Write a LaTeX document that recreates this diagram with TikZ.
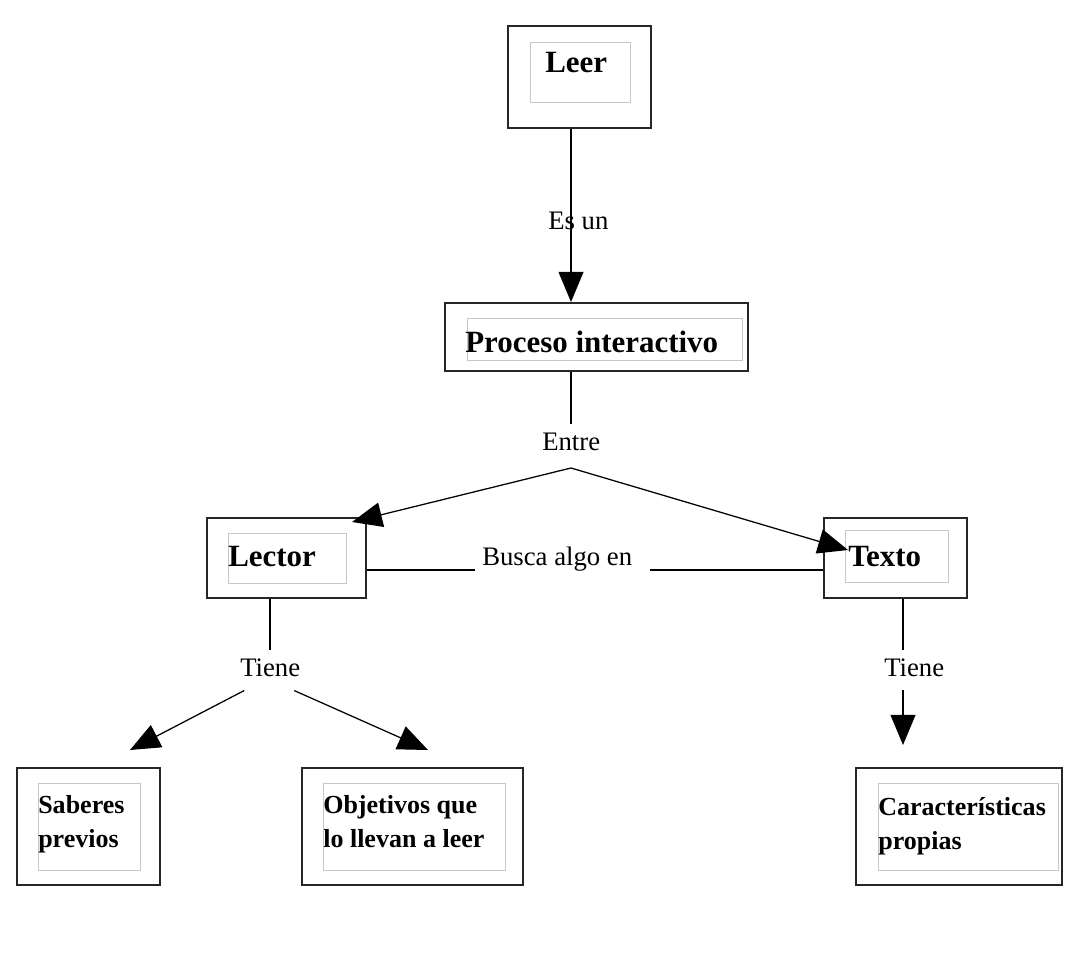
\documentclass[tikz,border=0pt]{standalone}
\usepackage{fontspec}
\setmainfont{Liberation Serif}
\usetikzlibrary{arrows.meta, positioning, calc}

\tikzset{
  outerbox/.style={draw=black!85, line width=1.4pt, inner sep=0pt},
  innerbox/.style={draw=black!22, line width=0.6pt, inner sep=0pt},
  bigtext/.style={font=\fontsize{22}{26}\selectfont\bfseries, inner sep=0pt, anchor=base west},
  smalltext/.style={font=\fontsize{18.5}{24}\selectfont\bfseries, inner sep=0pt, anchor=north west, align=left},
  linklabel/.style={font=\fontsize{19}{23}\selectfont, inner sep=0pt, anchor=base west},
  link/.style={line width=0.9pt},
  arr/.style={link, -{Triangle[length=0.75cm, width=0.62cm]}},
}

\begin{document}
\begin{tikzpicture}[x=0.025cm, y=-0.025cm]
  \useasboundingbox (0,0) rectangle (1068,959);

  % Leer
  \node[outerbox, minimum width=3.575cm, minimum height=2.55cm] (leer) at (579.5,77) {};
  \node[innerbox, minimum width=2.5cm, minimum height=1.5cm] (leer-in) at (580,72) {};
  \node[bigtext] (leer-t) at (545,73) {Leer};

  % Proceso interactivo
  \node[outerbox, minimum width=7.575cm, minimum height=1.7cm] (proceso) at (596.5,337) {};
  \node[innerbox, minimum width=6.875cm, minimum height=1.05cm] (proceso-in) at (604.5,339) {};
  \node[bigtext] (proceso-t) at (465,352) {Proceso interactivo};

  % Lector
  \node[outerbox, minimum width=3.975cm, minimum height=2cm] (lector) at (286.5,558) {};
  \node[innerbox, minimum width=2.95cm, minimum height=1.25cm] (lector-in) at (287,558) {};
  \node[bigtext] (lector-t) at (228,566) {Lector};

  % Texto
  \node[outerbox, minimum width=3.575cm, minimum height=2cm] (texto) at (895.5,558) {};
  \node[innerbox, minimum width=2.575cm, minimum height=1.3cm] (texto-in) at (896.5,556) {};
  \node[bigtext] (texto-t) at (848,566) {Texto};

  % Saberes previos
  \node[outerbox, minimum width=3.575cm, minimum height=2.925cm] (saberes) at (88.5,826.5) {};
  \node[innerbox, minimum width=2.55cm, minimum height=2.175cm] (saberes-in) at (89,826.5) {};
  \node[smalltext] (saberes-t) at (38,795) {Saberes\\previos};

  % Objetivos
  \node[outerbox, minimum width=5.525cm, minimum height=2.925cm] (objetivos) at (412.5,826.5) {};
  \node[innerbox, minimum width=4.55cm, minimum height=2.175cm] (objetivos-in) at (414,826.5) {};
  \node[smalltext] (objetivos-t) at (323,795) {Objetivos que\\lo llevan a leer};

  % Caracteristicas
  \node[outerbox, minimum width=5.15cm, minimum height=2.925cm] (caract) at (959,826.5) {};
  \node[innerbox, minimum width=4.5cm, minimum height=2.175cm] (caract-in) at (968,826.5) {};
  \node[smalltext] (caract-t) at (878,797) {Características\\propias};

  % Es un
  \coordinate (entre-j) at (571,468);
  \draw[arr] (leer.south -| entre-j) -- (proceso.north -| entre-j);
  \node[linklabel] (esun) at (548,230) {Es un};

  % Entre
  \node[linklabel] (entre) at (542,450) {Entre};
  \draw[link] (proceso.south -| entre-j) -- ([yshift=0.2cm]entre.north -| entre-j);
  \coordinate (lector-tip) at (352,522);
  \coordinate (texto-tip) at (848,550);
  \draw[arr] (entre-j) -- (lector-tip);
  \draw[arr] (entre-j) -- (texto-tip);

  % Busca algo en
  \node[linklabel] (busca) at (482,565) {Busca algo en};
  \coordinate (busca-l) at (475,570);
  \coordinate (busca-r) at (650,570);
  \draw[link] (lector.east |- busca-l) -- (busca-l);
  \draw[link] (busca-r) -- (texto.west |- busca-r);

  % Tiene (Lector)
  \node[linklabel] (tiene-l) at (240,676) {Tiene};
  \coordinate (lector-j) at (270,650);
  \draw[link] (lector.south -| lector-j) -- (lector-j);
  \coordinate (saberes-tip) at (130,750);
  \coordinate (objetivos-tip) at (428,750);
  \draw[arr] ([shift={(-0.65cm,-0.35cm)}]tiene-l.south) -- (saberes-tip);
  \draw[arr] ([shift={(0.6cm,-0.35cm)}]tiene-l.south) -- (objetivos-tip);

  % Tiene (Texto)
  \node[linklabel] (tiene-t) at (884,676) {Tiene};
  \coordinate (texto-j) at (903,650);
  \coordinate (texto-k) at (903,690);
  \coordinate (caract-tip) at (903,745);
  \draw[link] (texto.south -| texto-j) -- (texto-j);
  \draw[arr] (texto-k) -- (caract-tip);
\end{tikzpicture}
\end{document}
